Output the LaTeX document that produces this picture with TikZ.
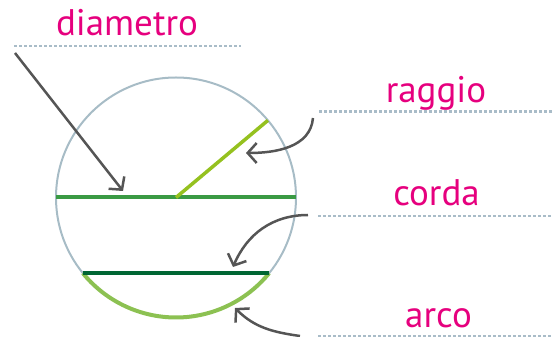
\documentclass[tikz,border=0pt]{standalone}
\usepackage{fontspec}
\setmainfont{PT Sans}
\usetikzlibrary{arrows.meta,calc}
\definecolor{lbl}{HTML}{E6007E}
\definecolor{dotc}{HTML}{A9BCC8}
\definecolor{circc}{HTML}{A7BCC6}
\definecolor{diamc}{HTML}{3A9A44}
\definecolor{radc}{HTML}{95C11F}
\definecolor{chordc}{HTML}{006633}
\definecolor{arcc}{HTML}{8CC152}
\definecolor{arrc}{HTML}{555555}
\begin{document}
\begin{tikzpicture}[x=1pt,y=1pt,
  lbltext/.style={text=lbl, font=\fontsize{37}{44}\selectfont, anchor=base, inner sep=0pt},
  dotline/.style={dotc, line width=2.5pt, dash pattern=on 2.5pt off 2.5pt},
  pointer/.style={arrc, line width=2.5pt, -{Straight Barb[length=9pt,width=20pt,line width=2.5pt]}}]
\useasboundingbox (0,0) rectangle (552,337);
% circle
\node[circle, draw=circc, line width=2pt, minimum size=240pt, inner sep=0pt, outer sep=0pt] (C) at (176,139.5) {};
\coordinate (L) at ($(C.center)+(-140.9:120)$);
\coordinate (R) at ($(C.center)+(-39.1:120)$);
% arc
\draw[arcc, line width=4pt] (L) arc[start angle=-140.9, end angle=-39.1, radius=120pt];
% diameter
\draw[diamc, line width=4pt] (C.west) -- (C.east);
% radius
\draw[radc, line width=3.5pt] (C.center) -- (C.40);
% chord
\draw[chordc, line width=4pt] (L) -- (R);
% labels
\node[lbltext] (tD) at (127,301) {diametro};
\node[lbltext] (tR) at (436,234) {raggio};
\node[lbltext] (tC) at (436.5,131) {corda};
\node[lbltext] (tA) at (438.5,9) {arco};
% dotted lines
\coordinate (dD1) at (14,291); \coordinate (dD2) at (241,291);
\coordinate (dR1) at (319,225.5); \coordinate (dR2) at (552,225.5);
\coordinate (dC1) at (318,121); \coordinate (dC2) at (552,121);
\coordinate (dA1) at (318,0.8); \coordinate (dA2) at (552,0.8);
\draw[dotline] (dD1) -- (dD2);
\draw[dotline] (dR1) -- (dR2);
\draw[dotline] (dC1) -- (dC2);
\draw[dotline] (dA1) -- (dA2);
% pointers
\coordinate (pD1) at (15,284); \coordinate (pD2) at (123,146);
\coordinate (pR1) at (313,219); \coordinate (pR2) at (246,184);
\coordinate (pC1) at (308,122); \coordinate (pC2) at (233,70);
\coordinate (pA1) at (300,1); \coordinate (pA2) at (235,29);
\draw[pointer] (pD1) -- (pD2);
\draw[pointer] (pR1) to[out=-95, in=0] (pR2);
\draw[pointer] (pC1) to[out=180, in=67] (pC2);
\draw[pointer] (pA1) to[out=172, in=-45] (pA2);
\end{tikzpicture}
\end{document}
